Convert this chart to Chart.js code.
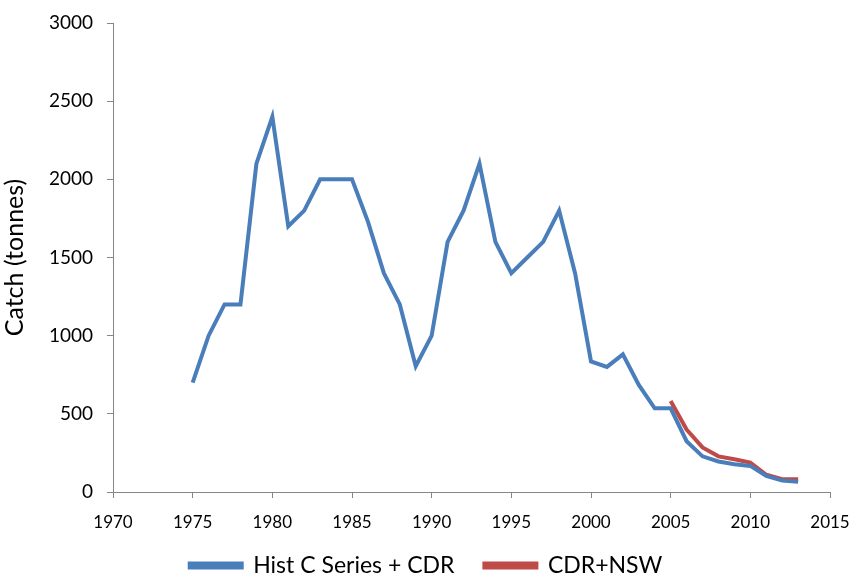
<!DOCTYPE html>
<html lang="en">
<head>
  <meta charset="UTF-8">
  <title>Catch (tonnes)</title>
  <script src="https://cdn.jsdelivr.net/npm/chart.js"></script>
  <style>
    html, body {
      margin: 0;
      padding: 0;
      background: #fff;
    }
    #chartContainer {
      width: 852px;
      height: 575px;
    }
  </style>
</head>
<body>

  <div id="chartContainer">
    <canvas id="catchChart"></canvas>
  </div>

  <script>
    const histYears = [1975, 1976, 1977, 1978, 1979, 1980, 1981, 1982, 1983, 1984,
                       1985, 1986, 1987, 1988, 1989, 1990, 1991, 1992, 1993, 1994,
                       1995, 1996, 1997, 1998, 1999, 2000, 2001, 2002, 2003, 2004,
                       2005, 2006, 2007, 2008, 2009, 2010, 2011, 2012, 2013];
    const histCatch = [700, 1000, 1200, 1200, 2100, 2400, 1700, 1800, 2000, 2000,
                       2000, 1730, 1400, 1200, 805, 1000, 1600, 1800, 2100, 1600,
                       1400, 1500, 1600, 1800, 1400, 835, 800, 880, 685, 535,
                       535, 325, 228, 195, 178, 167, 103, 73, 66];
    const nswYears = [2005, 2006, 2007, 2008, 2009, 2010, 2011, 2012, 2013];
    const nswCatch = [582, 400, 285, 228, 210, 188, 110, 82, 82];
    const xTicks = [1970, 1975, 1980, 1985, 1990, 1995, 2000, 2005, 2010, 2015];
    const yTicks = [0, 500, 1000, 1500, 2000, 2500, 3000];

    const toPoints = (xs, ys) => xs.map((x, i) => ({ x: x, y: ys[i] }));
    const font = "Lato, 'Noto Sans', sans-serif";
    const axisGrey = '#868686';

    // wide gap between legend items, but a short legend box drawn a bit higher
    const legendTweak = {
      id: 'legendTweak',
      afterInit(chart) {
        const lg = chart.legend;
        const fit = lg.fit.bind(lg);
        const drawItems = lg._draw.bind(lg);
        lg.fit = function () {
          fit();
          this.height = 39;
        };
        lg._draw = function () {
          this.ctx.save();
          this.ctx.translate(0, -12);
          drawItems();
          this.ctx.restore();
        };
      }
    };

    new Chart(document.getElementById('catchChart'), {
      type: 'line',
      data: {
        datasets: [{
          label: 'Hist C Series + CDR',
          data: toPoints(histYears, histCatch),
          borderColor: '#4a7ebb',
          backgroundColor: '#4a7ebb',
          borderWidth: 4,
          pointRadius: 0,
          tension: 0
        }, {
          label: 'CDR+NSW',
          data: toPoints(nswYears, nswCatch),
          borderColor: '#be4b48',
          backgroundColor: '#be4b48',
          borderWidth: 4,
          pointRadius: 0,
          tension: 0
        }]
      },
      options: {
        responsive: true,
        maintainAspectRatio: false,
        animation: false,
        layout: {
          padding: { left: 0, right: 0, top: 23, bottom: 0 }
        },
        plugins: {
          tooltip: { enabled: false },
          legend: {
            position: 'bottom',
            labels: {
              boxWidth: 52,
              boxHeight: 4,
              padding: 30,
              color: '#000',
              font: { family: font, size: 23 }
            }
          }
        },
        scales: {
          x: {
            type: 'linear',
            min: xTicks[0],
            max: xTicks[xTicks.length - 1],
            afterBuildTicks: (axis) => { axis.ticks = xTicks.map(v => ({ value: v })); },
            afterFit: (axis) => {
              axis.height = 44;
              axis.paddingLeft = 0;
              axis.paddingRight = 22;
            },
            ticks: {
              color: '#000',
              font: { family: font, size: 17 },
              padding: 14,
              maxRotation: 0,
              callback: (v) => String(v)
            },
            grid: {
              drawOnChartArea: false,
              tickLength: 6,
              color: axisGrey
            },
            border: { color: axisGrey, width: 1 }
          },
          y: {
            min: yTicks[0],
            max: yTicks[yTicks.length - 1],
            afterBuildTicks: (axis) => { axis.ticks = yTicks.map(v => ({ value: v })); },
            afterFit: (axis) => {
              axis.width = 113;
              axis.paddingTop = 0;
              axis.paddingBottom = 0;
            },
            ticks: {
              color: '#000',
              font: { family: font, size: 19 },
              padding: 14,
              callback: (v) => String(v)
            },
            grid: {
              drawOnChartArea: false,
              tickLength: 6,
              color: axisGrey
            },
            border: { color: axisGrey, width: 1 },
            title: {
              display: true,
              text: 'Catch (tonnes)',
              color: '#000',
              font: { family: font, size: 25 },
              padding: { top: 0, bottom: 6 }
            }
          }
        }
      },
      plugins: [legendTweak]
    });
  </script>

</body>
</html>
